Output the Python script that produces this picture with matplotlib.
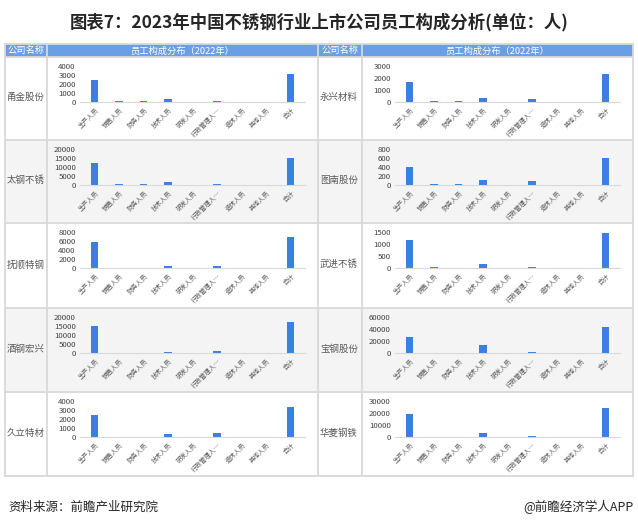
import numpy as np
import matplotlib.pyplot as plt
from matplotlib.patches import Rectangle
import warnings
warnings.filterwarnings("ignore")

plt.rcParams['font.family'] = ['Noto Sans CJK SC', 'DejaVu Sans']

# Categories and data
categories = ["生产人员", "销售人员", "财务人员", "技术人员", "研发人员",
              "行政管理人…", "退休人员", "其他人员", "合计"]

left_names = ["甬金股份", "太钢不锈", "抚顺特钢", "酒钢宏兴", "久立特材"]
right_names = ["永兴材料", "图南股份", "武进不锈", "宝钢股份", "华菱钢铁"]

yongjin = [2450, 120, 100, 350, 0, 150, 0, 0, 3100]
taigang = [12000, 500, 500, 1800, 0, 500, 0, 0, 15000]
fushun = [5800, 0, 0, 350, 0, 350, 0, 0, 6800]
jiugang = [15000, 0, 0, 700, 0, 1000, 0, 0, 17500]
jiuli = [2500, 0, 0, 300, 0, 400, 0, 0, 3350]

yongxing = [1650, 80, 70, 320, 0, 250, 0, 0, 2350]
tunan = [390, 30, 30, 110, 0, 90, 0, 0, 600]
wujin = [1150, 60, 0, 150, 0, 50, 0, 0, 1450]
baogang = [26000, 0, 0, 13000, 0, 2000, 0, 0, 44000]
hualing = [19000, 0, 0, 3000, 0, 1000, 0, 0, 24000]

left_data = [yongjin, taigang, fushun, jiugang, jiuli]
right_data = [yongxing, tunan, wujin, baogang, hualing]

# y-axis tick maxima and steps for each panel
left_ticks = [(4000, 1000), (20000, 5000), (8000, 2000), (20000, 5000), (4000, 1000)]
right_ticks = [(3000, 1000), (800, 200), (1500, 500), (60000, 20000), (30000, 10000)]

W, H = 638, 522
fig = plt.figure(figsize=(W / 100, H / 100), dpi=100)
fig.patch.set_facecolor('white')


def fx(px):
    return px / W


def fy(py):
    return 1 - py / H


def rect(x0, y0, x1, y1, color):
    fig.patches.append(Rectangle((fx(x0), fy(y1)), fx(x1) - fx(x0), fy(y0) - fy(y1),
                                 transform=fig.transFigure, facecolor=color,
                                 edgecolor='none', zorder=-2))


def line(xs, ys, color='#D9D9D9', lw=1.3):
    fig.add_artist(plt.Line2D([fx(x) for x in xs], [fy(y) for y in ys],
                              transform=fig.transFigure, color=color, lw=lw, zorder=-1))


# Title
fig.text(0.5, fy(22), "图表7：2023年中国不锈钢行业上市公司员工构成分析(单位：人)",
         ha='center', va='center', fontsize=12.5, fontweight='bold', color='#262626')

# Table geometry
x_cols = [5, 47, 318, 362, 633]
header_top, header_bot = 44, 57
row_edges = [57, 140, 223, 308, 392, 476]
header_color = '#6A9FE6'

rect(x_cols[0], header_top, x_cols[-1], header_bot, header_color)
for i in range(5):
    if i % 2 == 1:
        rect(x_cols[0], row_edges[i], x_cols[-1], row_edges[i + 1], '#F4F4F4')

for x0, x1, txt in [(x_cols[0], x_cols[1], "公司名称"), (x_cols[1], x_cols[2], "员工构成分布（2022年）"),
                    (x_cols[2], x_cols[3], "公司名称"), (x_cols[3], x_cols[4], "员工构成分布（2022年）")]:
    fig.text(fx((x0 + x1) / 2), fy((header_top + header_bot) / 2 + 0.5), txt,
             ha='center', va='center', fontsize=6.7, color='white')

# grid lines
for x in x_cols:
    line([x, x], [header_top, row_edges[-1]])
for y in row_edges:
    line([x_cols[0], x_cols[-1]], [y, y])
line([x_cols[0], x_cols[-1]], [header_top, header_top])

bar_color = '#3B80E0'
xpos = np.arange(len(categories))


def panel(cell_x0, row_top, values, tmax, tstep):
    left = cell_x0 + 33
    right = cell_x0 + 258
    top = row_top + 9
    bottom = row_top + 45
    ax = fig.add_axes([fx(left), fy(bottom), fx(right) - fx(left), fy(top) - fy(bottom)])
    ax.patch.set_alpha(0)
    ax.bar(xpos, values, width=0.3, color=bar_color)
    ax.set_xlim(-0.6, len(categories) - 0.4)
    ax.set_ylim(0, tmax)
    ax.set_yticks(np.arange(0, tmax + 1, tstep))
    ax.tick_params(axis='y', length=0, labelsize=5.6, labelcolor='#404040', pad=3)
    ax.set_xticks(xpos)
    ax.set_xticklabels(categories, rotation=45, ha='right', rotation_mode='anchor',
                       fontsize=4.6, color='#595959')
    ax.tick_params(axis='x', length=0, pad=3)
    for s in ['top', 'right', 'left']:
        ax.spines[s].set_visible(False)
    ax.spines['bottom'].set_color('#D9D9D9')
    ax.spines['bottom'].set_linewidth(0.8)


for i in range(5):
    rt = row_edges[i]
    mid = (row_edges[i] + row_edges[i + 1]) / 2
    fig.text(fx(x_cols[0] + 2), fy(mid - 1), left_names[i], ha='left', va='center',
             fontsize=6.8, color='#595959')
    fig.text(fx(x_cols[2] + 2), fy(mid - 1), right_names[i], ha='left', va='center',
             fontsize=6.8, color='#595959')
    panel(x_cols[1], rt, left_data[i], *left_ticks[i])
    panel(x_cols[3], rt, right_data[i], *right_ticks[i])

# Footer
fig.text(fx(8), fy(507), "资料来源：前瞻产业研究院", ha='left', va='center',
         fontsize=9, color='#262626')
fig.text(fx(633), fy(507), "@前瞻经济学人APP", ha='right', va='center',
         fontsize=9, color='#262626')

fig.savefig("out.png", dpi=100)
